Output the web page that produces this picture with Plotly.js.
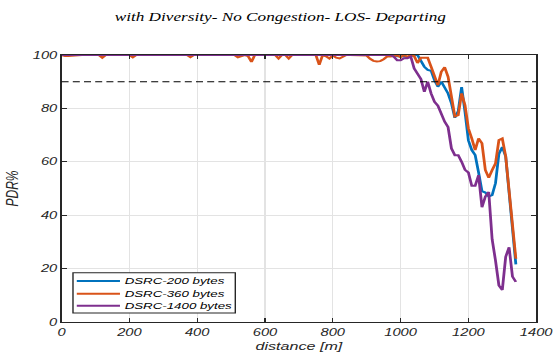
<!DOCTYPE html>
<html>
<head>
<meta charset="utf-8">
<script src="https://cdn.plot.ly/plotly-3.0.1.min.js"></script>
<style>
  html, body { margin: 0; padding: 0; background: #fff; }
  #wrap { width: 555px; height: 358px; overflow: hidden; position: relative; }
  #chart { position: absolute; left: 0; top: 0; transform-origin: 0 0; }
</style>
</head>
<body>
<div id="wrap"><div id="chart"></div></div>
<script>
// ---- data ----
const distance = [0,10,20,30,40,50,60,70,80,90,100,110,120,130,140,150,160,170,180,190,200,210,220,230,240,250,260,270,280,290,300,310,320,330,340,350,360,370,380,390,400,410,420,430,440,450,460,470,480,490,500,510,520,530,540,550,560,570,580,590,600,610,620,630,640,650,660,670,680,690,700,710,720,730,740,750,760,770,780,790,800,810,820,830,840,850,860,870,880,890,900,910,920,930,940,950,960,970,980,990,1000,1010,1020,1030,1040,1050,1060,1070,1080,1090,1100,1110,1120,1130,1140,1150,1160,1170,1180,1190,1200,1210,1220,1230,1240,1250,1260,1270,1280,1290,1300,1310,1320,1330,1340];

const pdr200 = [100,100,100,100,100,100,100,100,100,100,100,100,100,100,100,100,100,100,100,100,100,100,100,100,100,100,100,100,100,100,100,100,100,100,100,100,100,100,100,100,100,100,100,100,100,100,100,100,100,100,100,100,100,100,100,100,100,100,100,100,100,100,100,100,100,100,100,100,100,100,100,100,100,100,100,100,100,100,100,100,100,100,100,100,100,100,100,100,100,100,100,100,100,100,100,100,100,100,100,
  99.5,99.5,99.5,99.2,99.6,100,100,97.5,95.6,94.4,94.1,90.6,88.1,90,88.1,85.6,81.9,76.5,79,88,78.7,68,64.4,62.5,56,49,48.5,47,47.5,52,63,65.5,62,49,34,21.6];

const pdr360 = [100,99.6,99.6,99.7,100,100,100,100,100,100,100,100,99.0,100,100,100,100,100,100,100,100,99.1,100,100,100,100,100,100,100,100,100,100,100,100,100,100,100,100,99.2,100,100,100,100,100,100,100,100,100,100,100,100,100,99.1,99.5,100,99.6,97.4,100,100,100,100,100,100,100,98.7,100,100,98.7,100,100,100,100,100,100,100,100,96.3,100,99.5,98.7,99.8,99.0,98.7,99.5,100,100,100,100,100,100,99.8,98.6,97.8,97.6,97.7,98.4,99.4,99.4,99.5,
  99.8,99.2,100,99.3,100,99.6,97,99,99,99,95.6,92.5,88.7,93.7,95.4,91.9,85,77,77.5,85.6,81.2,72.5,68.7,64.4,68.7,66.9,56.9,54,56.9,59.4,68.1,68.7,62,50,37,23.7];

const pdr1400 = [100,100,100,100,100,100,100,100,100,100,100,100,100,100,100,100,100,100,100,100,100,100,100,100,100,100,100,100,100,100,100,100,100,100,100,100,100,100,100,100,100,100,100,100,100,100,100,100,100,100,100,100,100,100,100,100,100,100,100,100,100,100,100,100,100,100,100,100,100,100,100,100,100,100,100,100,100,100,100,100,100,100,100,100,100,100,100,100,100,100,100,100,100,100,100,100,100,100,99.4,
  98,98,98.8,98.8,99.4,95,93,91,86.2,90,85.6,82.5,81,78,75,73,65,62.5,62.5,60,57,56,51,51,55,43,47,48.7,31,23,13.7,12,24.4,28,17,15];

const seriesNames = ['DSRC-200 bytes', 'DSRC-360 bytes', 'DSRC-1400 bytes'];
const seriesColors = ['#0072BD', '#D95319', '#7E2F8E'];
const threshold = 90;
const xTicks = [0,200,400,600,800,1000,1200,1400];
const yTicks = [0,20,40,60,80,100];

// ---- geometry: reference is horizontally stretched ----
const SX = 1.4;
const OUTER_W = 555, OUTER_H = 358;
const W = OUTER_W / SX;
const chartDiv = document.getElementById('chart');
chartDiv.style.width = W + 'px';
chartDiv.style.height = OUTER_H + 'px';
chartDiv.style.transform = 'scaleX(' + SX + ')';

const axisCol = '#262626';
const sans = 'Liberation Sans, Arial, sans-serif';
const tickFont = {family: sans, size: 10.5, color: axisCol, style: 'italic'};

const allY = [pdr200, pdr360, pdr1400];
const traces = allY.map((y, i) => ({
  x: distance, y: y, type: 'scatter', mode: 'lines', name: seriesNames[i],
  line: {color: seriesColors[i], width: 2}, showlegend: false, cliponaxis: false
}));

// manual legend (box, line samples, labels)
const legBox = {x0: 0.024, x1: 0.366, y0: 0.034, y1: 0.184};
const legRowsY = [0.154, 0.106, 0.061];
const shapes = [
  {type: 'line', xref: 'paper', x0: 0, x1: 1, yref: 'y', y0: threshold, y1: threshold,
   line: {color: '#000', width: 1, dash: '5px,3px'}, layer: 'above'},
  {type: 'rect', xref: 'paper', yref: 'paper', x0: legBox.x0, x1: legBox.x1, y0: legBox.y0, y1: legBox.y1,
   line: {color: axisCol, width: 1}, fillcolor: '#fff', layer: 'above'}
];
const annotations = [];
seriesNames.forEach((n, i) => {
  shapes.push({type: 'line', xref: 'paper', yref: 'paper', x0: 0.032, x1: 0.123, y0: legRowsY[i], y1: legRowsY[i],
    line: {color: seriesColors[i], width: 2}, layer: 'above'});
  annotations.push({xref: 'paper', yref: 'paper', x: 0.128, y: legRowsY[i], xanchor: 'left', yanchor: 'middle',
    text: n, showarrow: false, font: {family: sans, size: 9.5, color: '#000', style: 'italic'}});
});

const layout = {
  width: W, height: OUTER_H,
  margin: {l: 43.8, r: 12.9, t: 55, b: 36.3, pad: 0},
  paper_bgcolor: '#fff', plot_bgcolor: '#fff',
  title: {text: 'with Diversity- No Congestion- LOS- Departing', x: 0.505, xref: 'container', xanchor: 'center',
          y: 1 - 17 / OUTER_H, yref: 'container', yanchor: 'middle',
          font: {family: 'Liberation Serif, Times New Roman, serif', size: 12.3, color: '#000', style: 'italic'}},
  xaxis: {range: [0, 1400], tickvals: xTicks, ticktext: xTicks.map(String), ticks: 'inside', ticklen: 4, tickwidth: 1,
          tickcolor: axisCol, showline: true, linecolor: axisCol, linewidth: 1, mirror: 'ticks',
          showgrid: true, gridcolor: '#e3e3e3', gridwidth: 1, zeroline: false, tickfont: tickFont,
          title: {text: 'distance [m]', standoff: 5, font: {family: sans, size: 11.5, color: axisCol, style: 'italic'}},
          automargin: false, fixedrange: true},
  yaxis: {range: [0, 100], tickvals: yTicks, ticktext: yTicks.map(String), ticks: 'inside', ticklen: 3.5, tickwidth: 1,
          tickcolor: axisCol, showline: true, linecolor: axisCol, linewidth: 1, mirror: 'ticks',
          showgrid: true, gridcolor: '#e3e3e3', gridwidth: 1, zeroline: false, tickfont: tickFont,
          title: {text: 'PDR%', standoff: 7, font: {family: sans, size: 12, color: axisCol, style: 'italic'}},
          automargin: false, fixedrange: true},
  shapes: shapes,
  annotations: annotations,
  showlegend: false
};

Plotly.newPlot(chartDiv, traces, layout, {displayModeBar: false, staticPlot: true});
</script>
</body>
</html>
